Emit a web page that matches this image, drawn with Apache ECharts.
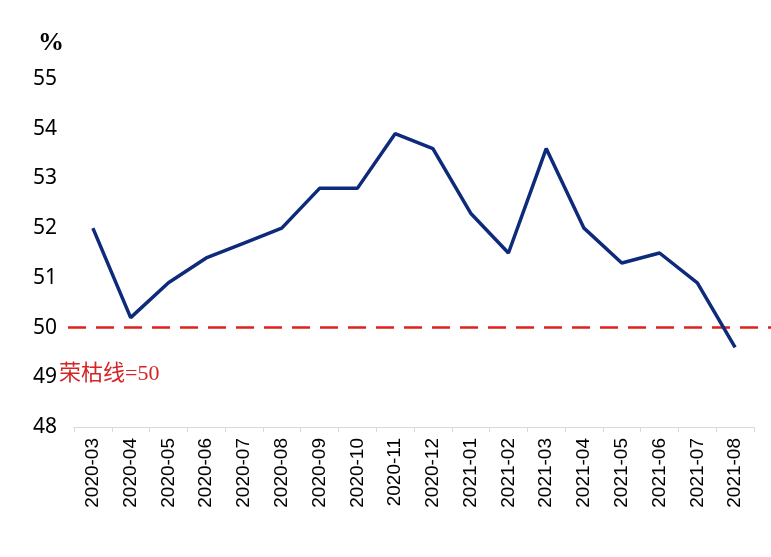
<!DOCTYPE html>
<html><head><meta charset="utf-8">
<script src="https://cdn.jsdelivr.net/npm/echarts@6/dist/echarts.min.js"></script>
<style>html,body{margin:0;padding:0;background:#fff}#c{width:771px;height:557px}</style>
</head><body><div id="c"></div>
<script>
const categories = ['2020-03','2020-04','2020-05','2020-06','2020-07','2020-08','2020-09','2020-10','2020-11','2020-12','2021-01','2021-02','2021-03','2021-04','2021-05','2021-06','2021-07','2021-08'];
const pmiValues = [52.0,50.2,50.9,51.4,51.7,52.0,52.8,52.8,53.9,53.6,52.3,51.5,53.6,52.0,51.3,51.5,50.9,49.6];
const thresholdValue = 50;
const yTicks = [48,49,50,51,52,53,54,55];

const chart = echarts.init(document.getElementById('c'));
chart.setOption({
  backgroundColor: '#ffffff',
  animation: false,
  grid: [
    {left: 74, right: 17, top: 79, bottom: 130},
    {left: 68, right: 0, top: 79, bottom: 130}
  ],
  title: {
    text: '%', left: 33, top: 25,
    textStyle: {fontFamily: 'Liberation Serif', fontSize: 26, fontWeight: 'bold', color: '#000'}
  },
  graphic: [{
    type: 'text', left: 59, top: 363,
    style: {text: '荣枯线=' + thresholdValue, fill: '#d42424', font: '22px "Liberation Serif", "Noto Sans CJK SC"'}
  }],
  xAxis: [{
    type: 'category', data: categories, gridIndex: 0, boundaryGap: true,
    axisLine: {lineStyle: {color: '#d9d9d9'}},
    axisTick: {show: true, lineStyle: {color: '#d9d9d9'}, length: 5},
    axisLabel: {rotate: 90, color: '#000', fontSize: 19, fontFamily: 'Liberation Sans', margin: 11, interval: 0}
  }, {
    type: 'value', gridIndex: 1, min: 0, max: 1, show: false
  }],
  yAxis: [{
    type: 'value', gridIndex: 0, min: yTicks[0], max: yTicks[yTicks.length-1], interval: 1,
    axisLine: {show: false}, axisTick: {show: false}, splitLine: {show: false},
    axisLabel: {color: '#000', fontSize: 21, fontFamily: 'Noto Sans', margin: 17}
  }, {
    type: 'value', gridIndex: 1, min: yTicks[0], max: yTicks[yTicks.length-1], show: false
  }],
  series: [{
    type: 'line', data: pmiValues, xAxisIndex: 0, yAxisIndex: 0,
    symbol: 'none', lineStyle: {color: '#0e2a7a', width: 3.5}
  }, {
    type: 'line', data: [[0, thresholdValue], [1, thresholdValue]], xAxisIndex: 1, yAxisIndex: 1,
    symbol: 'none', z: 1, lineStyle: {color: '#e0201c', width: 2.5, type: [18, 10]}
  }]
});
</script></body></html>
